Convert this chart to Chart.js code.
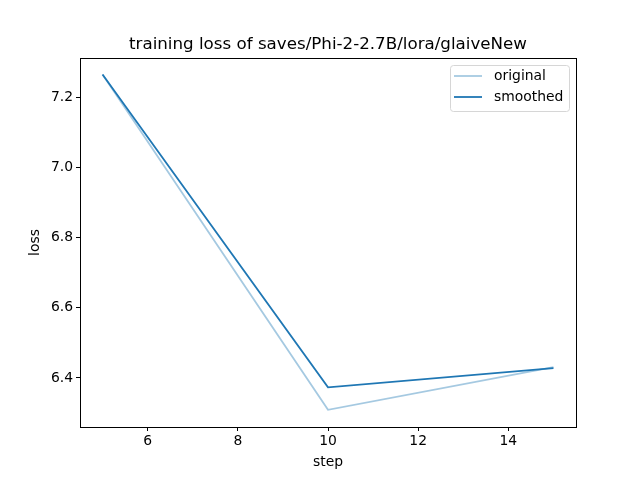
<!DOCTYPE html>
<html>
<head>
<meta charset="utf-8">
<script src="https://cdn.jsdelivr.net/npm/chart.js@4.4.0/dist/chart.umd.min.js"></script>
<style>
  html, body { margin: 0; padding: 0; background: #fff; }
  #wrap { width: 640px; height: 480px; }
</style>
</head>
<body>
<div id="wrap"><canvas id="lossChart" width="640" height="480"></canvas></div>
<script>
// datos
const steps = [5, 10, 15];
const originalLoss = [7.265, 6.309, 6.431];
const smoothedLoss = [7.265, 6.373, 6.428];
const xTicks = [6, 8, 10, 12, 14];
const yTicks = [6.4, 6.6, 6.8, 7.0, 7.2];
const chartTitle = 'training loss of saves/Phi-2-2.7B/lora/glaiveNew';
const xLabel = 'step';
const yLabel = 'loss';

const FONT = 'DejaVu Sans';
const blue = '#1f77b4';
const blueLight = 'rgba(31, 119, 180, 0.4)';

function toPoints(xs, ys) {
    return xs.map((x, i) => ({ x: x, y: ys[i] }));
}

// marco, titulos y leyenda estilo matplotlib
const frameAndLegend = {
    id: 'frameAndLegend',
    afterDraw(chart) {
        const c = chart.ctx;
        const a = chart.chartArea;
        c.save();
        c.strokeStyle = '#000';
        c.lineWidth = 1;
        c.strokeRect(Math.round(a.left) + 0.5, Math.round(a.top) + 0.5,
            Math.round(a.right - a.left), Math.round(a.bottom - a.top));

        c.fillStyle = '#000';
        c.font = '16.7px "' + FONT + '"';
        c.textAlign = 'center';
        c.textBaseline = 'alphabetic';
        c.fillText(chartTitle, (a.left + a.right) / 2, 49);

        // etiquetas de ejes
        c.font = '13.9px "' + FONT + '"';
        c.textBaseline = 'middle';
        c.fillText(xLabel, (a.left + a.right) / 2, 462);
        c.save();
        c.translate(35, (a.top + a.bottom) / 2);
        c.rotate(-Math.PI / 2);
        c.fillText(yLabel, 0, 0);
        c.restore();

        // leyenda
        const bx = 450.5, by = 65.5, bw = 119, bh = 46;
        c.beginPath();
        const r = 3;
        c.moveTo(bx + r, by);
        c.lineTo(bx + bw - r, by);
        c.quadraticCurveTo(bx + bw, by, bx + bw, by + r);
        c.lineTo(bx + bw, by + bh - r);
        c.quadraticCurveTo(bx + bw, by + bh, bx + bw - r, by + bh);
        c.lineTo(bx + r, by + bh);
        c.quadraticCurveTo(bx, by + bh, bx, by + bh - r);
        c.lineTo(bx, by + r);
        c.quadraticCurveTo(bx, by, bx + r, by);
        c.fillStyle = 'rgba(255,255,255,0.8)';
        c.fill();
        c.strokeStyle = '#d6d6d6';
        c.stroke();

        c.textAlign = 'left';
        chart.data.datasets.forEach((ds, i) => {
            const ly = 76 + i * 21;
            c.strokeStyle = ds.borderColor;
            c.lineWidth = 1.8;
            c.beginPath();
            c.moveTo(454, ly);
            c.lineTo(482, ly);
            c.stroke();
            c.fillStyle = '#000';
            c.fillText(ds.label, 494, ly);
        });
        c.restore();
    }
};

const ctx = document.getElementById('lossChart');
new Chart(ctx, {
    type: 'line',
    data: {
        datasets: [
            {
                label: 'original',
                data: toPoints(steps, originalLoss),
                borderColor: blueLight,
                borderWidth: 1.8,
                pointRadius: 0,
                tension: 0,
                fill: false
            },
            {
                label: 'smoothed',
                data: toPoints(steps, smoothedLoss),
                borderColor: blue,
                borderWidth: 1.8,
                pointRadius: 0,
                tension: 0,
                fill: false
            }
        ]
    },
    options: {
        responsive: false,
        animation: false,
        devicePixelRatio: 1,
        layout: { padding: { top: 58, right: 64, left: 0, bottom: 0 } },
        scales: {
            x: {
                type: 'linear',
                min: 4.5,
                max: 15.5,
                afterBuildTicks: (scale) => { scale.ticks = xTicks.map(v => ({ value: v })); },
                afterFit: (scale) => { scale.height = 53; },
                ticks: {
                    color: '#000',
                    font: { family: FONT, size: 13.9 },
                    padding: 2,
                    maxRotation: 0,
                    callback: (v) => String(v)
                },
                grid: { drawOnChartArea: false, drawTicks: true, tickLength: 4, color: '#000' },
                border: { display: true, color: '#000' }
            },
            y: {
                type: 'linear',
                min: 6.26,
                max: 7.312,
                afterBuildTicks: (scale) => { scale.ticks = yTicks.map(v => ({ value: v })); },
                afterFit: (scale) => { scale.width = 80; },
                ticks: {
                    color: '#000',
                    font: { family: FONT, size: 13.9 },
                    padding: 3,
                    callback: (v) => v.toFixed(1)
                },
                grid: { drawOnChartArea: false, drawTicks: true, tickLength: 4, color: '#000' },
                border: { display: true, color: '#000' }
            }
        },
        plugins: {
            legend: { display: false },
            title: { display: false },
            tooltip: { enabled: false }
        }
    },
    plugins: [frameAndLegend]
});
</script>
</body>
</html>
